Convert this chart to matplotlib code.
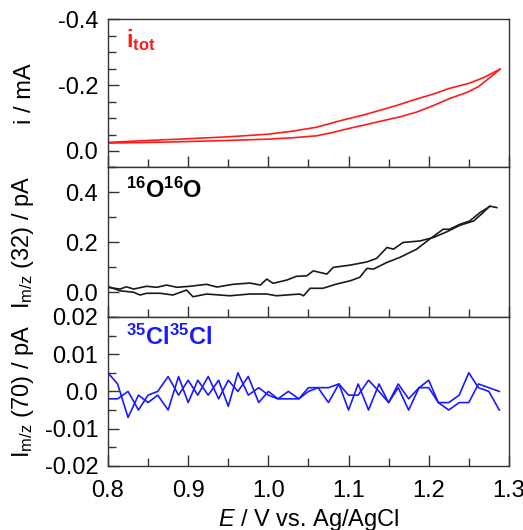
import matplotlib
matplotlib.use("Agg")
import matplotlib.pyplot as plt
from matplotlib.ticker import MultipleLocator

plt.rcParams['font.family'] = ['Liberation Sans', 'DejaVu Sans']
plt.rcParams['mathtext.fontset'] = 'custom'
plt.rcParams['mathtext.rm'] = 'Liberation Sans'
plt.rcParams['mathtext.it'] = 'Liberation Sans:italic'
plt.rcParams['mathtext.bf'] = 'Liberation Sans:bold'

# Total current (CV loop), E in V, i in mA
E_itot_fwd = [0.797, 0.80, 0.85, 0.89, 0.95, 1.00, 1.03, 1.06, 1.09, 1.12, 1.14, 1.16, 1.18, 1.205, 1.226, 1.25, 1.268, 1.289]
i_itot_fwd = [-0.021, -0.026, -0.032, -0.036, -0.043, -0.051, -0.060, -0.072, -0.092, -0.110, -0.124, -0.138, -0.154, -0.172, -0.190, -0.205, -0.222, -0.248]
E_itot_bwd = [1.289, 1.275, 1.262, 1.248, 1.225, 1.205, 1.185, 1.165, 1.143, 1.12, 1.10, 1.08, 1.06, 1.03, 1.00, 0.95, 0.89, 0.85, 0.80]
i_itot_bwd = [-0.248, -0.220, -0.195, -0.178, -0.158, -0.137, -0.118, -0.104, -0.092, -0.079, -0.068, -0.056, -0.046, -0.040, -0.036, -0.032, -0.028, -0.026, -0.024]

# m/z 32 (O2), pA
E_o2_fwd = [0.798, 0.815, 0.823, 0.832, 0.848, 0.861, 0.873, 0.886, 0.902, 0.923, 0.936, 0.956, 0.977, 0.990, 0.998, 1.006, 1.023, 1.035, 1.048, 1.056, 1.073, 1.081, 1.102, 1.123, 1.135, 1.148, 1.156, 1.168, 1.189, 1.206, 1.222, 1.239, 1.256, 1.268, 1.276, 1.285]
I_o2_fwd = [0.019, 0.012, 0.021, 0.012, 0.023, 0.019, 0.028, 0.019, 0.023, 0.031, 0.020, 0.031, 0.036, 0.028, 0.052, 0.035, 0.048, 0.063, 0.065, 0.085, 0.072, 0.099, 0.108, 0.121, 0.135, 0.179, 0.172, 0.199, 0.205, 0.219, 0.241, 0.268, 0.285, 0.319, 0.345, 0.339]
E_o2_bwd = [1.276, 1.264, 1.251, 1.239, 1.226, 1.218, 1.201, 1.185, 1.164, 1.148, 1.131, 1.123, 1.114, 1.102, 1.085, 1.068, 1.052, 1.044, 1.039, 1.010, 0.998, 0.977, 0.952, 0.923, 0.906, 0.898, 0.881, 0.865, 0.848, 0.840, 0.832, 0.815, 0.798]
I_o2_bwd = [0.343, 0.319, 0.285, 0.272, 0.252, 0.252, 0.212, 0.172, 0.139, 0.119, 0.092, 0.095, 0.059, 0.045, 0.032, 0.015, 0.015, -0.015, -0.008, -0.015, -0.008, -0.008, -0.015, -0.008, -0.019, 0.008, -0.012, -0.005, -0.005, -0.012, -0.001, 0.005, 0.025]

# m/z 70 (Cl2), pA
E_cl = [0.800, 0.812, 0.825, 0.838, 0.850, 0.862, 0.875, 0.888, 0.900, 0.912, 0.925, 0.938, 0.950, 0.962, 0.975, 0.988, 1.000, 1.012, 1.025, 1.038, 1.050, 1.062, 1.075, 1.088, 1.100, 1.112, 1.125, 1.138, 1.150, 1.162, 1.175, 1.188, 1.200, 1.212, 1.225, 1.238, 1.250, 1.262, 1.275, 1.288]
I_cl_fwd = [0.005, 0.002, -0.007, -0.001, -0.003, -0.001, -0.005, 0.004, -0.003, 0.003, -0.001, 0.003, -0.004, 0.005, -0.001, 0.001, -0.001, -0.002, 0.000, -0.002, 0.001, 0.001, -0.003, 0.002, -0.005, 0.002, -0.005, 0.002, -0.003, 0.001, -0.005, 0.001, 0.003, -0.003, -0.003, -0.001, 0.005, 0.001, 0.000, -0.005]
I_cl_bwd = [-0.002, -0.002, 0.000, -0.005, -0.001, 0.000, 0.004, -0.001, 0.003, -0.001, 0.004, -0.002, 0.003, 0.000, 0.004, -0.003, 0.000, -0.002, -0.002, -0.002, 0.000, 0.001, 0.001, 0.002, -0.001, -0.001, 0.003, 0.000, -0.003, 0.002, -0.002, 0.001, 0.001, -0.003, -0.005, -0.003, -0.003, 0.002, 0.001, 0.000]

fig = plt.figure(figsize=(5.23, 5.30), dpi=100)
left, width = 0.2065, 0.7665
ax1 = fig.add_axes([left, 0.684, width, 0.280])
ax2 = fig.add_axes([left, 0.402, width, 0.282])
ax3 = fig.add_axes([left, 0.121, width, 0.281])

ax1.plot(E_itot_fwd, i_itot_fwd, color='#ff1a1a', lw=1.2)
ax1.plot(E_itot_bwd, i_itot_bwd, color='#ff1a1a', lw=1.2)
ax2.plot(E_o2_fwd, I_o2_fwd, color='#1a1a1a', lw=1.2)
ax2.plot(E_o2_bwd, I_o2_bwd, color='#1a1a1a', lw=1.2)
ax3.plot(E_cl, I_cl_fwd, color='#1a1aff', lw=1.2)
ax3.plot(E_cl, I_cl_bwd, color='#1a1aff', lw=1.2)

ax1.set_ylim(0.05, -0.4)
ax1.yaxis.set_major_locator(MultipleLocator(0.2))
ax1.yaxis.set_minor_locator(MultipleLocator(0.05))
ax2.set_ylim(-0.1, 0.5)
ax2.yaxis.set_major_locator(MultipleLocator(0.2))
ax2.yaxis.set_minor_locator(MultipleLocator(0.1))
ax3.set_ylim(-0.02, 0.02)
ax3.yaxis.set_major_locator(MultipleLocator(0.01))
ax3.yaxis.set_minor_locator(MultipleLocator(0.005))

for ax in (ax1, ax2, ax3):
    ax.set_xlim(0.8, 1.3)
    ax.xaxis.set_major_locator(MultipleLocator(0.1))
    ax.xaxis.set_minor_locator(MultipleLocator(0.05))
    ax.tick_params(which='both', direction='in', top=False, right=False, labelsize=17, color='#333333', width=1)
    ax.tick_params(which='major', length=8)
    ax.tick_params(which='minor', length=6)
    ax.tick_params(axis='y', which='both', pad=7)
    ax.tick_params(axis='x', which='both', pad=10)
    for s in ax.spines.values():
        s.set_color('#333333')
        s.set_linewidth(1)

ax1.set_yticks([-0.4, -0.2, 0.0])
ax1.set_yticklabels(['-0.4', '-0.2', '0.0'])
ax2.set_yticks([0.0, 0.2, 0.4])
ax2.set_yticklabels(['0.0', '0.2', '0.4'])
ax3.set_yticks([-0.02, -0.01, 0.0, 0.01, 0.02])
ax3.set_yticklabels(['-0.02', '-0.01', '0.0', '0.01', '0.02'])
ax1.tick_params(axis='x', labelbottom=False)
ax2.tick_params(axis='x', labelbottom=False)
ax3.set_xticks([0.8, 0.9, 1.0, 1.1, 1.2, 1.3])
ax3.set_xticklabels(['0.8', '0.9', '1.0', '1.1', '1.2', '1.3'])

ax1.set_ylabel('i / mA', fontsize=17)
ax2.set_ylabel(r'I$_{\mathrm{m/z}}$ (32) / pA', fontsize=17)
ax3.set_ylabel(r'I$_{\mathrm{m/z}}$ (70) / pA', fontsize=17)
ax3.set_xlabel(r'$E$ / V vs. Ag/AgCl', fontsize=17, labelpad=4)
for ax in (ax1, ax2, ax3):
    ax.yaxis.set_label_coords(-0.18, 0.5)

ax1.text(0.045, 0.86, r'i$_{\mathbf{tot}}$', transform=ax1.transAxes, color='#ff1a1a',
         fontsize=17, fontweight='bold', va='center')
ax2.text(0.045, 0.85, r'$^{\mathbf{16}}$O$^{\mathbf{16}}$O', transform=ax2.transAxes, color='black',
         fontsize=17, fontweight='bold', va='center')
ax3.text(0.045, 0.86, r'$^{\mathbf{35}}$Cl$^{\mathbf{35}}$Cl', transform=ax3.transAxes, color='#1a1aff',
         fontsize=17, fontweight='bold', va='center')

fig.savefig('out.png', dpi=100)
